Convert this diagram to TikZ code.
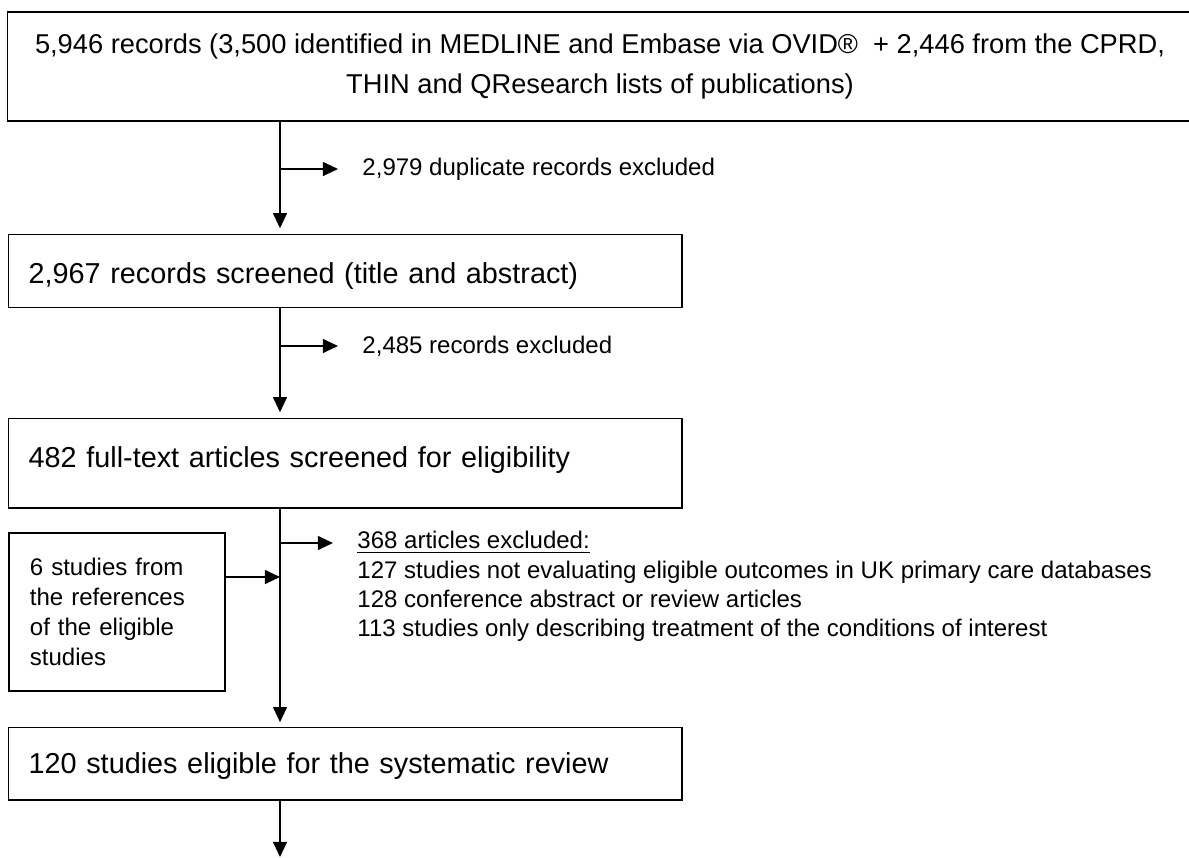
\documentclass[tikz,border=0pt]{standalone}
\usepackage{fontspec}
\setmainfont{Liberation Sans}
\usetikzlibrary{arrows.meta, positioning}

\begin{document}
\begin{tikzpicture}[x=0.01464cm, y=-0.01464cm, >={Triangle[length=6.3pt, width=5.8pt]}]
\tikzstyle{stage} = [rectangle, draw, line width=0.6pt, anchor=north west, inner xsep=8.3pt, inner ysep=0pt, text width=263.8pt, align=left, font=\fontsize{12}{14}\selectfont, text height=20.4pt, text depth=10pt]
\tikzstyle{note} = [anchor=west, inner sep=0pt, align=left, font=\fontsize{10}{12.2}\selectfont]
\tikzstyle{flow} = [->, line width=0.65pt]

\useasboundingbox (0,0) rectangle (1189,857);
\clip (0,0) rectangle (1189,857);

\node (records) [rectangle, draw, line width=0.6pt, minimum width=493.4pt, minimum height=45.4pt, align=center, font=\fontsize{11.35}{16.7}\selectfont] at (600,66.5) {5,946 records (3,500 identified in MEDLINE and Embase via OVID®~ + 2,446 from the CPRD,\\THIN and QResearch lists of publications)};
\node (screened) [stage] at (8,234) {2,967 records screened (title and abstract)};
\node (fulltext) [stage, text depth=16.7pt] at (8,418) {482 full-text articles screened for eligibility};
\node (eligible) [stage, text height=19.2pt, text depth=10.8pt] at (8,727) {120 studies eligible for the systematic review};
\node (refs) [rectangle, draw, line width=0.6pt, inner xsep=8.75pt, inner ysep=0pt, text width=72.5pt, minimum height=65.8pt, align=left, font=\fontsize{10}{12.5}\selectfont] at (117,612) {6 studies from\\the references\\of the eligible\\studies};

\node (dup) [note] at (362,169) {2,979 duplicate records excluded};
\node (recexcl) [note] at (362,346) {2,485 records excluded};
\node (artexcl) [note] at (357,586.5) {\underline{368 articles excluded:}\\127 studies not evaluating eligible outcomes in UK primary care databases\\128 conference abstract or review articles\\113 studies only describing treatment of the conditions of interest};

\coordinate (j1) at (280,169);
\coordinate (j2) at (280,346);
\coordinate (j3) at (280,543);
\coordinate (j4) at (280,577);
\coordinate (end) at (280,857);

\draw[flow, shorten >=2.4pt] (records.south -| j1) -- (screened.north -| j1);
\draw[flow, shorten >=10pt] (j1) -- (dup.west);
\draw[flow, shorten >=2.4pt] (screened.south -| j2) -- (fulltext.north -| j2);
\draw[flow, shorten >=10pt] (j2) -- (recexcl.west);
\draw[flow, shorten >=2pt] (fulltext.south -| j3) -- (eligible.north -| j3);
\draw[flow, shorten >=10pt] (j3) -- (artexcl.west |- j3);
\draw[flow] (refs.east |- j4) -- (j4);
\draw[flow] (eligible.south -| end) -- (end);
\end{tikzpicture}
\end{document}
